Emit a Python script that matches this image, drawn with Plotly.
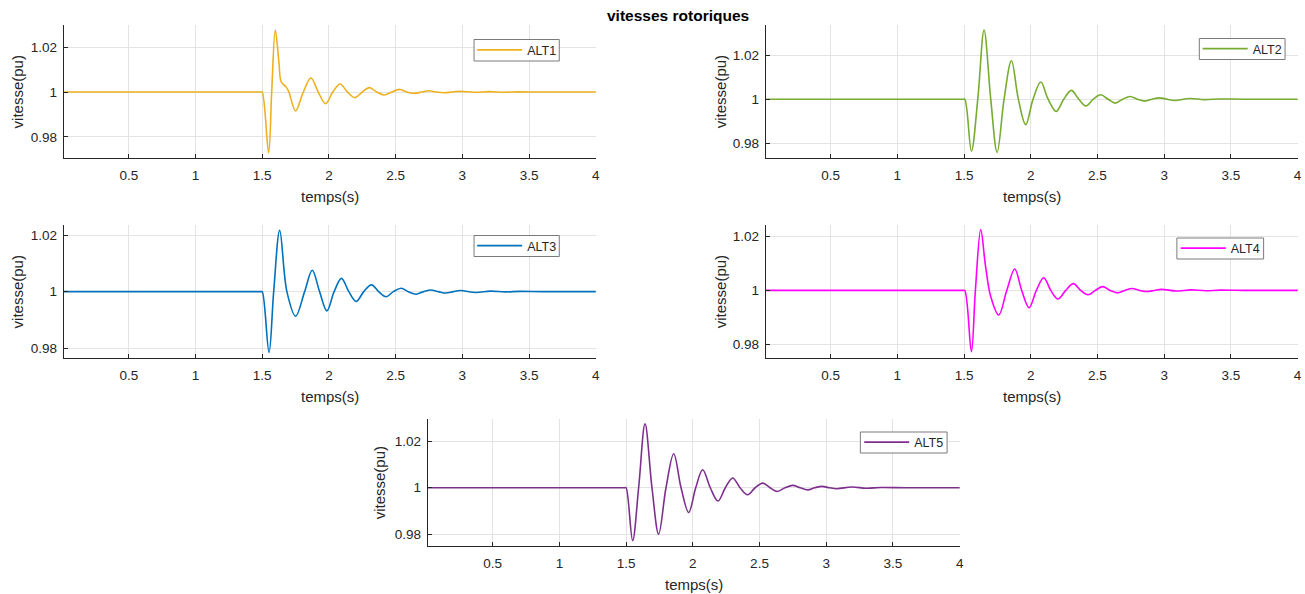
import plotly.graph_objects as go

# ---- text -------------------------------------------------------------
title_text = "vitesses rotoriques"
x_label = "temps(s)"
y_label = "vitesse(pu)"
x_ticks = [0.5, 1, 1.5, 2, 2.5, 3, 3.5, 4]
x_tick_text = ["0.5", "1", "1.5", "2", "2.5", "3", "3.5", "4"]
y_ticks = [0.98, 1.0, 1.02]
y_tick_text = ["0.98", "1", "1.02"]

names = ["ALT1", "ALT2", "ALT3", "ALT4", "ALT5"]
colors = ["#EDB120", "#77AC30", "#0072BD", "#FF00FF", "#7E2F8E"]

# ---- rotor speed traces (time in s, speed in pu) ------------------------
t_alt1 = [0.013, 1.49, 1.50, 1.548, 1.571, 1.598, 1.625, 1.643, 1.680, 1.700,
          1.750, 1.808, 1.865, 1.920, 1.975, 2.029, 2.084, 2.139, 2.194, 2.249,
          2.304, 2.358, 2.414, 2.471, 2.528, 2.583, 2.638, 2.695, 2.752, 2.807,
          2.865, 2.922, 2.980, 3.09, 3.20, 3.31, 3.42, 3.60, 4.0]
w_alt1 = [1.0, 1.0, 1.0, 0.9729, 1.0, 1.0277, 1.0135, 1.0045, 1.0022, 1.0,
          0.9916, 1.0, 1.0063, 1.0, 0.9948, 1.0, 1.0036, 1.0, 0.9975, 1.0,
          1.0020, 1.0, 0.9987, 1.0, 1.0012, 1.0, 0.9994, 1.0, 1.0006, 1.0,
          0.9997, 1.0, 1.0003, 0.9999, 1.0002, 0.9999, 1.0001, 1.0, 1.0]

t_alt2 = [0.013, 1.49, 1.505, 1.555, 1.603, 1.650, 1.700, 1.748, 1.800, 1.855,
          1.907, 1.962, 2.017, 2.075, 2.130, 2.190, 2.247, 2.304, 2.360, 2.414,
          2.469, 2.524, 2.579, 2.634, 2.689, 2.744, 2.799, 2.854, 2.909, 2.964,
          3.021, 3.078, 3.19, 3.30, 3.42, 3.60, 4.0]
w_alt2 = [1.0, 1.0, 1.0, 0.9763, 1.0, 1.0315, 1.0, 0.9757, 1.0, 1.0175,
          1.0, 0.9884, 1.0, 1.0078, 1.0, 0.9944, 1.0, 1.0040, 1.0, 0.9969,
          1.0, 1.0020, 1.0, 0.9982, 1.0, 1.0012, 1.0, 0.9991, 1.0, 1.0006,
          1.0, 0.9994, 1.0003, 0.9998, 1.0001, 1.0, 1.0]

t_alt3 = [0.013, 1.49, 1.50, 1.551, 1.586, 1.631, 1.685, 1.750, 1.818, 1.875,
          1.930, 1.985, 2.039, 2.094, 2.149, 2.204, 2.261, 2.319, 2.373, 2.428,
          2.483, 2.541, 2.595, 2.653, 2.708, 2.765, 2.820, 2.877, 2.932, 2.986,
          3.10, 3.21, 3.32, 3.43, 3.60, 4.0]
w_alt3 = [1.0, 1.0, 1.0, 0.9785, 1.0, 1.0217, 1.0, 0.9913, 1.0, 1.0076,
          1.0, 0.9932, 1.0, 1.0047, 1.0, 0.9965, 1.0, 1.0024, 1.0, 0.9982,
          1.0, 1.0012, 1.0, 0.9991, 1.0, 1.0006, 1.0, 0.9995, 1.0, 1.0004,
          0.9997, 1.0002, 0.9999, 1.0001, 1.0, 1.0]

t_alt4 = [0.013, 1.49, 1.505, 1.555, 1.585, 1.625, 1.660, 1.700, 1.760, 1.820,
          1.880, 1.932, 1.987, 2.042, 2.097, 2.150, 2.204, 2.262, 2.319, 2.374,
          2.429, 2.484, 2.539, 2.594, 2.649, 2.704, 2.759, 2.816, 2.871, 2.926,
          2.981, 3.09, 3.20, 3.31, 3.42, 3.60, 4.0]
w_alt4 = [1.0, 1.0, 1.0, 0.9773, 1.0, 1.0225, 1.0094, 0.9977, 0.9909, 1.0,
          1.0079, 1.0, 0.9936, 1.0, 1.0047, 1.0, 0.9968, 1.0, 1.0025, 1.0,
          0.9984, 1.0, 1.0014, 1.0, 0.9991, 1.0, 1.0007, 1.0, 0.9996, 1.0,
          1.0004, 0.9998, 1.0002, 0.9999, 1.0001, 1.0, 1.0]

t_alt5 = [0.013, 1.49, 1.50, 1.549, 1.594, 1.642, 1.694, 1.744, 1.799, 1.857,
          1.912, 1.969, 2.022, 2.074, 2.131, 2.189, 2.244, 2.299, 2.354, 2.411,
          2.467, 2.524, 2.579, 2.634, 2.691, 2.749, 2.804, 2.861, 2.914, 2.969,
          3.024, 3.081, 3.19, 3.30, 3.41, 3.60, 4.0]
w_alt5 = [1.0, 1.0, 1.0, 0.9773, 1.0, 1.0274, 1.0, 0.9801, 1.0, 1.0146,
          1.0, 0.9894, 1.0, 1.0077, 1.0, 0.9943, 1.0, 1.0042, 1.0, 0.9970,
          1.0, 1.0020, 1.0, 0.9984, 1.0, 1.0010, 1.0, 0.9991, 1.0, 1.0006,
          1.0, 0.9996, 1.0003, 0.9998, 1.0001, 1.0, 1.0]

times = [t_alt1, t_alt2, t_alt3, t_alt4, t_alt5]
speeds = [w_alt1, w_alt2, w_alt3, w_alt4, w_alt5]
y_ranges = [[0.9706, 1.0299], [0.9732, 1.0338], [0.9765, 1.0236],
            [0.9750, 1.0242], [0.9750, 1.0295]]
x_range = [0.013, 4.003]

# ---- page geometry (pixels) ------------------------------------------
W, H = 1305, 594
panels = [(64, 598, 25, 158), (768, 1302, 25, 158), (64, 598, 225, 358),
          (768, 1302, 225, 358), (429, 963, 419, 546)]
# legend frames: left, right, top, bottom
legend_boxes = [(475.5, 561, 39.5, 61), (1203, 1289, 38.5, 59.5),
                (475.5, 561, 235.5, 256.5), (1180.5, 1267.5, 238, 259),
                (863, 950, 432, 453)]
ylabel_x = [18, 723, 18, 723, 381]

FONT = "Liberation Sans, Arial, sans-serif"
INK = "#262626"
GRID = "#e3e3e3"

fig = go.Figure()
layout = dict(
    width=W, height=H,
    margin=dict(l=0, r=0, t=0, b=0),
    paper_bgcolor="white", plot_bgcolor="white",
    font=dict(family=FONT, color=INK),
    showlegend=True,
)
annotations = []
shapes = []

for i in range(5):
    k = "" if i == 0 else str(i + 1)
    x0, x1, top, bottom = panels[i]
    fig.add_trace(go.Scatter(
        x=times[i], y=speeds[i], mode="lines", name=names[i],
        line=dict(color=colors[i], width=1.6, shape="spline", smoothing=1.0),
        xaxis="x" + k, yaxis="y" + k, legend="legend" + k,
        hoverinfo="skip",
    ))
    layout["xaxis" + k] = dict(
        domain=[x0 / W, x1 / W], anchor="y" + k, range=x_range,
        tickvals=x_ticks, ticktext=x_tick_text,
        ticks="inside", ticklen=4, tickcolor=INK, tickwidth=1,
        showline=True, linecolor=INK, linewidth=1,
        showgrid=True, gridcolor=GRID, gridwidth=1, zeroline=False,
        tickfont=dict(family=FONT, size=13.5, color=INK),
        ticklabelstandoff=5,
    )
    layout["yaxis" + k] = dict(
        domain=[1 - bottom / H, 1 - top / H], anchor="x" + k, range=y_ranges[i],
        tickvals=y_ticks, ticktext=y_tick_text,
        ticks="inside", ticklen=4, tickcolor=INK, tickwidth=1,
        showline=True, linecolor=INK, linewidth=1,
        showgrid=True, gridcolor=GRID, gridwidth=1, zeroline=False,
        tickfont=dict(family=FONT, size=13.5, color=INK),
        ticklabelstandoff=3,
    )
    bl, br, bt, bb = legend_boxes[i]
    # white framed box behind each legend
    shapes.append(dict(
        type="rect", xref="paper", yref="paper", layer="above",
        x0=bl / W, x1=br / W, y0=1 - bb / H, y1=1 - bt / H,
        fillcolor="white", line=dict(color="#7a7a7a", width=1),
    ))
    layout["legend" + k] = dict(
        x=(bl + br) / 2 / W, y=1 - (bt + bb) / 2 / H,
        xanchor="center", yanchor="middle",
        xref="paper", yref="paper",
        bgcolor="rgba(0,0,0,0)", borderwidth=0,
        font=dict(family=FONT, size=12.5, color=INK),
        itemwidth=45,
    )
    annotations.append(dict(
        text=x_label, x=(x0 + x1) / 2 / W, y=1 - (bottom + 38) / H,
        xref="paper", yref="paper", xanchor="center", yanchor="middle",
        showarrow=False, font=dict(family=FONT, size=15, color=INK),
    ))
    annotations.append(dict(
        text=y_label, x=ylabel_x[i] / W, y=1 - (top + bottom) / 2 / H,
        xref="paper", yref="paper", xanchor="center", yanchor="middle",
        textangle=-90, showarrow=False,
        font=dict(family=FONT, size=15, color=INK),
    ))

annotations.append(dict(
    text="<b>" + title_text + "</b>", x=680 / W, y=1 - 15 / H,
    xref="paper", yref="paper", xanchor="center", yanchor="middle",
    showarrow=False, font=dict(family=FONT, size=15.5, color="black"),
))
layout["annotations"] = annotations
layout["shapes"] = shapes

fig.update_layout(**layout)
fig.write_html("out.html")
